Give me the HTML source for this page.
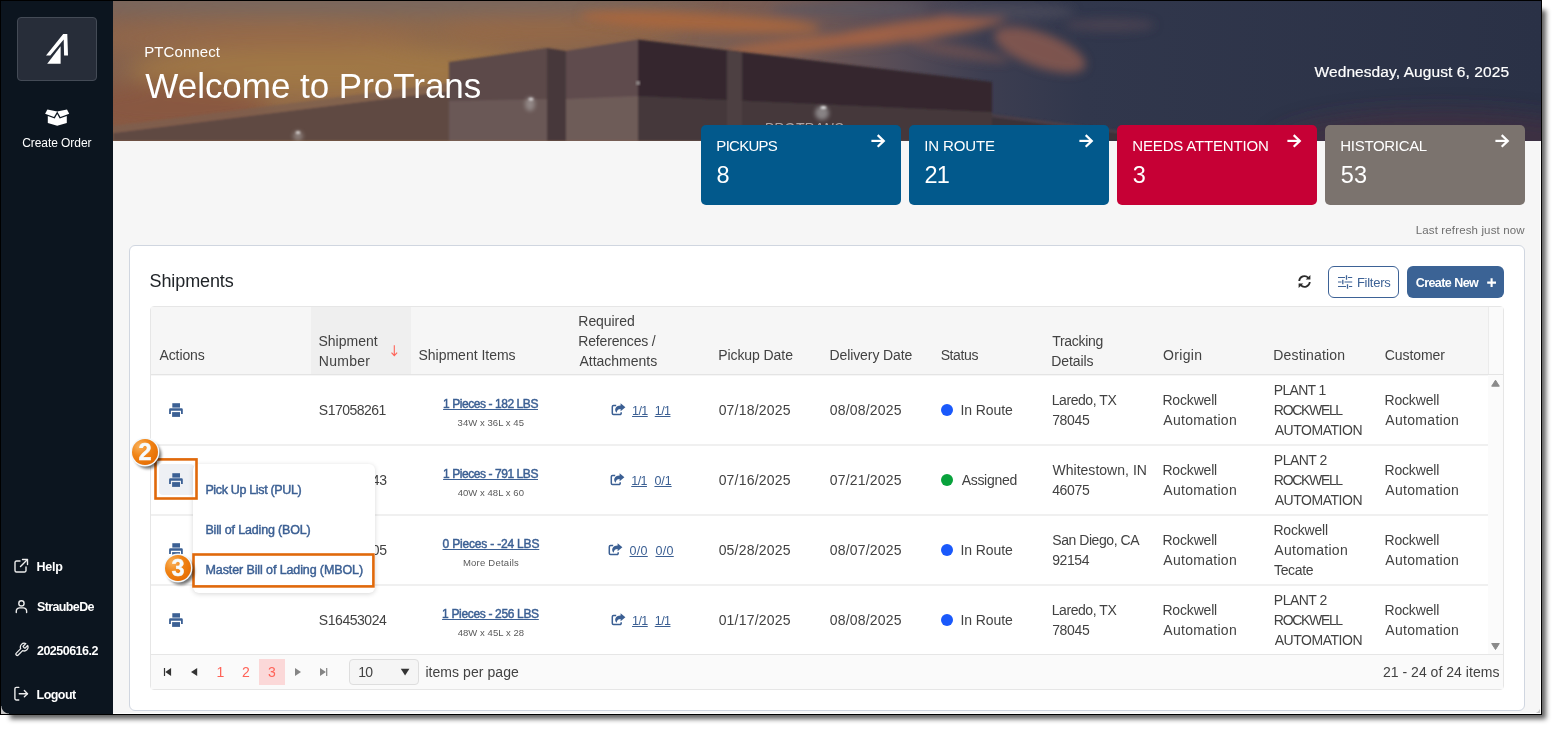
<!DOCTYPE html>
<html lang="en">
<head>
<meta charset="utf-8">
<title>PTConnect - Welcome to ProTrans</title>
<style>
*{box-sizing:border-box;margin:0;padding:0}
html,body{width:1557px;height:730px;overflow:hidden;background:#fff}
body{font-family:"Liberation Sans",sans-serif;font-size:14px;color:#424242;position:relative}
.a{position:absolute;white-space:nowrap}
#frame{position:absolute;left:0;top:0;width:1542px;height:715px;background:#f6f6f6;overflow:hidden}
#border{position:absolute;left:0;top:0;width:1542px;height:715px;border:1px solid #000;z-index:50}
#side{position:absolute;left:0;top:0;width:113px;height:715px;background:#0c151f}
#logo{position:absolute;left:17px;top:17px;width:80px;height:64px;background:#272d39;border:1px solid #444b56;border-radius:4px}
#hero{position:absolute;left:113px;top:1px;width:1428px;height:140px;overflow:hidden;background:#4a3c40}
.card{position:absolute;top:125px;width:200px;height:80px;border-radius:5px}
#panel{position:absolute;left:129px;top:245px;width:1396px;height:466px;background:#fff;border:1px solid #d0d6e0;border-radius:6px}
#grid{position:absolute;left:150px;top:306px;width:1354px;height:384px;border:1px solid #e6e6e6;border-radius:4px;background:#fff;overflow:hidden}
.u{text-decoration:underline;text-underline-offset:1px}
.sb{-webkit-text-stroke:.45px currentColor}
</style>
</head>
<body>
<div class="a" style="left:10px;top:10px;width:1536px;height:709px;background:rgba(0,0,0,.62);filter:blur(2.500px)"></div>

<div id="frame">
<div id="side">
<div id="logo"><svg class="a" style="left:-1px;top:-1px" width="80" height="64" viewBox="17 17 80 64"><polygon fill="#fff" points="63.200,34 67.300,34 68,55.600 64.100,55.500 63.700,39.500 50.300,55.600 46,55.600"/><polygon fill="#fff" points="60.600,46.200 60.600,63.700 47.200,63.700"/></svg></div>
<svg class="a" style="left:45px;top:108.500px" width="25" height="18" viewBox="0 0 25 18"><path fill="#fff" d="M2.400 .5L.1 4.700L9 7.900L12.200 2.500Z"/><path fill="#fff" d="M22 .5L24.200 4.700L15.400 7.900L12.200 2.500Z"/><path fill="#fff" d="M2.800 7L9.700 9.500L12.200 5L14.700 9.500L21.800 7V14.100L12.200 16.700L2.800 14.100Z"/></svg>
</div>
<div class="a" style="left:22.20px;top:136px;font-size:12px;line-height:14px;color:#fff;letter-spacing:-0.066px;">Create Order</div>
<svg class="a" style="left:11.75px;top:557.25px" width="18" height="18" viewBox="0 0 18 18" fill="none" stroke="#ececec" stroke-width="1.4" stroke-linecap="round" stroke-linejoin="round"><path d="M8 4H4.500A1.500 1.500 0 0 0 3 5.500V13.500A1.500 1.500 0 0 0 4.500 15H12.500A1.500 1.500 0 0 0 14 13.500V10"/><path d="M10.500 2.500H15.500V7.500"/><path d="M15.200 2.800L8.500 9.500"/></svg>
<div class="a" style="left:36.57px;top:560px;font-size:12.5px;line-height:14px;color:#fff;letter-spacing:-0.250px;font-weight:bold;">Help</div>
<svg class="a" style="left:12.5px;top:597.7px" width="16.9" height="16.9" viewBox="0 0 18 18" fill="none" stroke="#ececec" stroke-width="1.5" stroke-linecap="round" stroke-linejoin="round"><circle cx="9" cy="5.800" r="2.800"/><path d="M3.500 15.500V14A3.500 3.500 0 0 1 7 10.500H11A3.500 3.500 0 0 1 14.500 14V15.500"/></svg>
<div class="a" style="left:37.05px;top:600px;font-size:12.5px;line-height:14px;color:#fff;letter-spacing:-0.630px;font-weight:bold;">StraubeDe</div>
<svg class="a" style="left:13.8px;top:642.3px" width="15.3" height="15.3" viewBox="0 0 24 24" fill="none" stroke="#ececec" stroke-width="2" stroke-linecap="round" stroke-linejoin="round"><path d="M14.700 6.300a1 1 0 0 0 0 1.400l1.600 1.600a1 1 0 0 0 1.400 0l3.770-3.770a6 6 0 0 1-7.940 7.940l-6.910 6.910a2.120 2.120 0 0 1-3-3l6.910-6.910a6 6 0 0 1 7.940-7.940l-3.760 3.760z"/></svg>
<div class="a" style="left:36.98px;top:644px;font-size:12.5px;line-height:14px;color:#fff;letter-spacing:-0.514px;font-weight:bold;">20250616.2</div>
<svg class="a" style="left:11.8px;top:685.4px" width="17.4" height="17.4" viewBox="0 0 18 18" fill="none" stroke="#ececec" stroke-width="1.45" stroke-linecap="round" stroke-linejoin="round"><path d="M7 2.500H4.500A1.500 1.500 0 0 0 3 4V14A1.500 1.500 0 0 0 4.500 15.500H7"/><path d="M7.500 9H16"/><path d="M12.800 5.800L16 9L12.800 12.200"/></svg>
<div class="a" style="left:36.57px;top:688px;font-size:12.5px;line-height:14px;color:#fff;letter-spacing:-0.552px;font-weight:bold;">Logout</div>
<div id="hero">
<svg class="a" style="left:0;top:0" width="1428" height="140" viewBox="113 1 1428 140" preserveAspectRatio="none">
<defs>
<linearGradient id="sky" x1="0" x2="1" y1="0" y2="0">
<stop offset="0" stop-color="#86624d"/><stop offset=".12" stop-color="#926a49"/><stop offset=".26" stop-color="#8e694c"/><stop offset=".38" stop-color="#826251"/><stop offset=".48" stop-color="#745a55"/><stop offset=".55" stop-color="#564c57"/><stop offset=".61" stop-color="#3d3e51"/><stop offset=".68" stop-color="#31374c"/><stop offset="1" stop-color="#2a3146"/>
</linearGradient>
<linearGradient id="topfade" x1="0" x2="0" y1="0" y2="1"><stop offset="0" stop-color="#77675f" stop-opacity=".9"/><stop offset="1" stop-color="#77675f" stop-opacity="0"/></linearGradient>
<filter id="b8" x="-20%" y="-60%" width="140%" height="220%"><feGaussianBlur stdDeviation="10"/></filter>
<filter id="b4" x="-20%" y="-60%" width="140%" height="220%"><feGaussianBlur stdDeviation="5"/></filter>
<filter id="b2" x="-50%" y="-50%" width="200%" height="200%"><feGaussianBlur stdDeviation="2.200"/></filter>
<filter id="b1"><feGaussianBlur stdDeviation=".8"/></filter>
</defs>
<rect x="113" y="1" width="1428" height="140" fill="url(#sky)"/>
<g filter="url(#b8)">
<ellipse cx="330" cy="70" rx="200" ry="24" fill="#a27947" opacity=".85"/>
<ellipse cx="250" cy="38" rx="170" ry="13" fill="#986b49" opacity=".7"/>
<ellipse cx="170" cy="108" rx="100" ry="26" fill="#88553f" opacity=".85"/>
<ellipse cx="560" cy="30" rx="120" ry="13" fill="#9a6843" opacity=".75"/>
<ellipse cx="330" cy="0" rx="380" ry="16" fill="#77675f" opacity=".9"/>
<ellipse cx="1440" cy="145" rx="170" ry="35" fill="#4a3240" opacity=".55"/>
</g>
<g filter="url(#b4)">
<ellipse cx="700" cy="22" rx="120" ry="9" fill="#a8673f" opacity=".9" transform="rotate(3 700 22)"/>
<ellipse cx="810" cy="44" rx="85" ry="7" fill="#a56542" opacity=".9" transform="rotate(-6 810 44)"/>
<ellipse cx="915" cy="30" rx="95" ry="10" fill="#a26346" opacity=".9" transform="rotate(-8 915 30)"/>
<ellipse cx="850" cy="9" rx="80" ry="6" fill="#5a5660" opacity=".8"/>
<ellipse cx="1005" cy="12" rx="70" ry="8" fill="#4a4a5a" opacity=".8"/>
<ellipse cx="1040" cy="50" rx="48" ry="17" fill="#8a5a50" opacity=".85" transform="rotate(20 1040 50)"/>
<ellipse cx="960" cy="52" rx="50" ry="6" fill="#7d5650" opacity=".6" transform="rotate(10 960 52)"/>
<ellipse cx="1110" cy="25" rx="45" ry="7" fill="#5b4a55" opacity=".5"/>
</g>
<g filter="url(#b1)">
<polygon points="113,133 449,91 449,141 113,141" fill="#5f4843"/>
<polygon points="113,126 449,83 449,91 113,133" fill="#7c6050" opacity=".75"/>
<polygon points="449,62 547,48 547,141 449,141" fill="#5b4849"/>
<polygon points="449,101 547,99 547,141 449,141" fill="#6b5856"/>
<polygon points="547,48 566,51 566,141 547,141" fill="#47373b"/>
<polygon points="566,51 638,39.500 638,141 566,141" fill="#5f4c4d"/>
<polygon points="566,99 638,96 638,141 566,141" fill="#6e5b59"/>
<polygon points="638,39.500 992,82 992,141 638,141" fill="#35282d"/>
<polygon points="638,96 992,112 992,141 638,141" fill="#44373b"/>
<polygon points="727,50.500 742,52.200 742,141 727,141" fill="#4e3f42"/>
<polygon points="992,114 1200,141 992,141" fill="#3b3039"/>
<polygon points="992,114 1200,141 1180,141 992,117" fill="#4b404a"/>
</g>
<g filter="url(#b2)" fill="#eef4f6">
<ellipse cx="530" cy="104" rx="5" ry="7" opacity=".3"/>
<ellipse cx="298" cy="136" rx="5" ry="5" opacity=".3"/>
<ellipse cx="822" cy="113" rx="7" ry="7" opacity=".4"/>
</g>
<g filter="url(#b1)" fill="#fff">
<ellipse cx="531" cy="99" rx="2.600" ry="1.600" opacity=".7"/>
<ellipse cx="298" cy="132.500" rx="2.400" ry="1.500" opacity=".7"/>
<ellipse cx="823.500" cy="107.500" rx="3" ry="1.600" opacity=".8"/>
</g>
<rect x="636" y="81" width="4" height="4" fill="#8d8585" filter="url(#b1)"/>
<text x="764" y="133" font-family="Liberation Sans, sans-serif" font-size="14" font-style="italic" fill="#d8d2d2" opacity=".7" letter-spacing=".2">PROTRANS</text>
</svg>

</div>
<div class="a" style="left:144.27px;top:43px;font-size:15px;line-height:17px;color:#fff;letter-spacing:0.074px;">PTConnect</div>
<div class="a" style="left:145.36px;top:66px;font-size:35px;line-height:39px;color:#fff;letter-spacing:-0.033px;">Welcome to ProTrans</div>
<div class="a sb" style="left:1314.54px;top:63px;font-size:15.5px;line-height:17px;color:#fff;letter-spacing:0.085px;-webkit-text-stroke-width:.2px;">Wednesday, August 6, 2025</div>
<div class="card" style="left:701px;background:#02598c"><svg class="a" style="left:169px;top:8px" width="18" height="18" viewBox="0 0 18 18" fill="none" stroke="#fff" stroke-width="2.200" stroke-linecap="butt" stroke-linejoin="miter"><path d="M1.400 7.900H13.500"/><path d="M7.700 2.100L13.800 7.900L7.700 13.700"/></svg></div>
<div class="a" style="left:716.37px;top:137px;font-size:15px;line-height:17px;color:#fff;letter-spacing:-0.724px;">PICKUPS</div>
<div class="a" style="left:716.59px;top:162px;font-size:23.5px;line-height:26px;color:#fff;">8</div>
<div class="card" style="left:909px;background:#02598c"><svg class="a" style="left:169px;top:8px" width="18" height="18" viewBox="0 0 18 18" fill="none" stroke="#fff" stroke-width="2.200" stroke-linecap="butt" stroke-linejoin="miter"><path d="M1.400 7.900H13.500"/><path d="M7.700 2.100L13.800 7.900L7.700 13.700"/></svg></div>
<div class="a" style="left:924.22px;top:137px;font-size:15px;line-height:17px;color:#fff;letter-spacing:-0.123px;">IN ROUTE</div>
<div class="a" style="left:924.43px;top:162px;font-size:23.5px;line-height:26px;color:#fff;letter-spacing:-0.629px;">21</div>
<div class="card" style="left:1117px;background:#c60035"><svg class="a" style="left:169px;top:8px" width="18" height="18" viewBox="0 0 18 18" fill="none" stroke="#fff" stroke-width="2.200" stroke-linecap="butt" stroke-linejoin="miter"><path d="M1.400 7.900H13.500"/><path d="M7.700 2.100L13.800 7.900L7.700 13.700"/></svg></div>
<div class="a" style="left:1132.37px;top:137px;font-size:15px;line-height:17px;color:#fff;letter-spacing:-0.175px;">NEEDS ATTENTION</div>
<div class="a" style="left:1132.71px;top:162px;font-size:23.5px;line-height:26px;color:#fff;">3</div>
<div class="card" style="left:1325px;background:#7b736e"><svg class="a" style="left:169px;top:8px" width="18" height="18" viewBox="0 0 18 18" fill="none" stroke="#fff" stroke-width="2.200" stroke-linecap="butt" stroke-linejoin="miter"><path d="M1.400 7.900H13.500"/><path d="M7.700 2.100L13.800 7.900L7.700 13.700"/></svg></div>
<div class="a" style="left:1340.37px;top:137px;font-size:15px;line-height:17px;color:#fff;letter-spacing:-0.324px;">HISTORICAL</div>
<div class="a" style="left:1340.66px;top:162px;font-size:23.5px;line-height:26px;color:#fff;letter-spacing:0.219px;">53</div>
<div class="a" style="left:1415.76px;top:224px;font-size:11.5px;line-height:12px;color:#6f6f6f;letter-spacing:0.135px;">Last refresh just now</div>
<div id="panel"></div>
<div class="a" style="left:149.59px;top:271px;font-size:18px;line-height:20px;color:#212529;letter-spacing:-0.112px;">Shipments</div>
<svg class="a" style="left:1297px;top:274px" width="15" height="15" viewBox="0 0 15 15" fill="none" stroke="#2b2b2b" stroke-width="1.800"><path d="M2.200 7A5.300 5.300 0 0 1 11.300 3.800"/><path d="M12.800 8A5.300 5.300 0 0 1 3.700 11.200"/><path fill="#2b2b2b" stroke="none" d="M8.700 5.600H13.400V.9Z"/><path fill="#2b2b2b" stroke="none" d="M6.300 9.400H1.600V14.100Z"/></svg>
<div class="a" style="left:1328px;top:266px;width:71px;height:32px;border:1px solid #3d6296;border-radius:6px;background:#fff"></div>
<svg class="a" style="left:1337px;top:274px" width="16" height="16" viewBox="0 0 16 16" fill="none" stroke="#3d6296" stroke-width="1.200"><path d="M1 3.500H8M11 3.500H15.200M1 8H4.500M7.500 8H15.200M1 12.500H9M12 12.500H15.200"/><path d="M9.500 1.300V5.700M5.800 5.800V10.200M10.500 10.300V14.700" stroke-width="1.300"/></svg>
<div class="a" style="left:1356.93px;top:275px;font-size:13px;line-height:15px;color:#3d6296;letter-spacing:-0.259px;">Filters</div>
<div class="a" style="left:1407px;top:266px;width:97px;height:32px;border-radius:6px;background:#3b6395"></div>
<div class="a" style="left:1415.69px;top:276px;font-size:12.5px;line-height:14px;color:#fff;letter-spacing:-0.556px;font-weight:bold;">Create New</div>
<svg class="a" style="left:1486px;top:277px" width="11" height="11" viewBox="0 0 11 11" stroke="#fff" stroke-width="2.100"><path d="M5.600 1.200V10M1.200 5.600H10"/></svg>
<div id="grid"></div>
<div class="a" style="left:151px;top:307px;width:1352px;height:67px;background:#f6f6f6"></div>
<div class="a" style="left:311px;top:307px;width:100px;height:67px;background:#efefef"></div>
<div class="a" style="left:151px;top:374px;width:1352px;height:1px;background:#e4e4e4"></div>
<div class="a" style="left:151px;top:375px;width:1337px;height:1px;background:#f6f6f6"></div>
<div class="a" style="left:1488px;top:307px;width:1px;height:67px;background:#ebebeb"></div>
<div class="a" style="left:1489px;top:307px;width:14px;height:67px;background:#fafafa"></div>
<div class="a" style="left:1488px;top:375px;width:15px;height:279px;background:#fbfbfb"></div>
<svg class="a" style="left:1490px;top:379px" width="11" height="9" viewBox="0 0 11 9"><path fill="#8a8a8a" stroke="#8a8a8a" stroke-width="1" stroke-linejoin="round" d="M5.500 1.200L9.300 7.200H1.700Z"/></svg>
<svg class="a" style="left:1490px;top:642px" width="11" height="9" viewBox="0 0 11 9"><path fill="#8a8a8a" stroke="#8a8a8a" stroke-width="1" stroke-linejoin="round" d="M5.500 7.500L9.300 1.500H1.700Z"/></svg>
<div class="a" style="left:159.47px;top:347px;font-size:14px;line-height:16px;color:#424242;letter-spacing:-0.096px;">Actions</div>
<div class="a" style="left:318.47px;top:333px;font-size:14px;line-height:16px;color:#424242;letter-spacing:0.011px;">Shipment</div>
<div class="a" style="left:318.85px;top:353px;font-size:14px;line-height:16px;color:#424242;letter-spacing:0.255px;">Number</div>
<svg class="a" style="left:390px;top:345px" width="9" height="12" viewBox="0 0 9 12" fill="none" stroke="#ff6358" stroke-width="1.100"><path d="M4.300 .2V10.500M1.500 7.600L4.300 10.700L7.100 7.600"/></svg>
<div class="a" style="left:418.47px;top:347px;font-size:14px;line-height:16px;color:#424242;letter-spacing:-0.010px;">Shipment Items</div>
<div class="a" style="left:578.35px;top:313px;font-size:14px;line-height:16px;color:#424242;letter-spacing:-0.067px;">Required</div>
<div class="a" style="left:578.35px;top:333px;font-size:14px;line-height:16px;color:#424242;letter-spacing:-0.185px;">References /</div>
<div class="a" style="left:579.47px;top:353px;font-size:14px;line-height:16px;color:#424242;letter-spacing:-0.008px;">Attachments</div>
<div class="a" style="left:718.25px;top:347px;font-size:14px;line-height:16px;color:#424242;letter-spacing:-0.081px;">Pickup Date</div>
<div class="a" style="left:829.45px;top:347px;font-size:14px;line-height:16px;color:#424242;letter-spacing:-0.089px;">Delivery Date</div>
<div class="a" style="left:940.67px;top:347px;font-size:14px;line-height:16px;color:#424242;letter-spacing:-0.391px;">Status</div>
<div class="a" style="left:1052.19px;top:333px;font-size:14px;line-height:16px;color:#424242;letter-spacing:-0.279px;">Tracking</div>
<div class="a" style="left:1051.35px;top:353px;font-size:14px;line-height:16px;color:#424242;letter-spacing:-0.091px;">Details</div>
<div class="a" style="left:1162.94px;top:347px;font-size:14px;line-height:16px;color:#424242;letter-spacing:0.363px;">Origin</div>
<div class="a" style="left:1273.25px;top:347px;font-size:14px;line-height:16px;color:#424242;letter-spacing:0.180px;">Destination</div>
<div class="a" style="left:1384.80px;top:347px;font-size:14px;line-height:16px;color:#424242;letter-spacing:-0.093px;">Customer</div>
<svg class="a" style="left:169px;top:403px" width="15" height="15" viewBox="0 0 15 15"><path fill="#3b6094" d="M3.300 .2H11V4.600H3.300Z"/><path fill="#3b6094" d="M1.300 5.300H12.600A1.200 1.200 0 0 1 13.800 6.500V10.900H12V7.800H1.900V10.900H.1V6.500A1.200 1.200 0 0 1 1.300 5.300Z"/><path fill="#3b6094" d="M3.100 9.100H11V13.900H3.100Z"/></svg>
<div class="a" style="left:318.87px;top:402px;font-size:14px;line-height:16px;color:#424242;letter-spacing:-0.515px;">S17058261</div>
<div class="a u sb" style="left:443.09px;top:397px;font-size:12px;line-height:14px;color:#3b5f93;letter-spacing:-0.434px;">1 Pieces - 182 LBS</div>
<div class="a" style="left:457.54px;top:417px;font-size:9.5px;line-height:11px;color:#5a5a5a;letter-spacing:0.061px;">34W x 36L x 45</div>
<svg class="a" style="left:611.0px;top:403px" width="15" height="13" viewBox="0 0 15 13" fill="none"><path stroke="#3b5f93" stroke-width="1.500" d="M5.200 2.600H2.500A1.200 1.200 0 0 0 1.300 3.800V10.300A1.200 1.200 0 0 0 2.500 11.500H9A1.200 1.200 0 0 0 10.200 10.300V9.300"/><path fill="#3b5f93" d="M9.600 .3L14.400 4.300L9.600 8.200V5.900C7.300 5.900 6.100 6.700 5.600 9.800C4.200 8.400 3.900 6.900 4.400 5.600C5.100 3.600 6.900 2.700 9.600 2.600Z"/></svg>
<div class="a u" style="left:632.05px;top:404px;font-size:12.5px;line-height:14px;color:#3b5f93;letter-spacing:-0.562px;">1/1</div>
<div class="a u" style="left:654.75px;top:404px;font-size:12.5px;line-height:14px;color:#3b5f93;letter-spacing:-0.563px;">1/1</div>
<div class="a" style="left:718.65px;top:402px;font-size:14px;line-height:16px;color:#424242;letter-spacing:0.194px;">07/18/2025</div>
<div class="a" style="left:829.85px;top:402px;font-size:14px;line-height:16px;color:#424242;letter-spacing:0.172px;">08/08/2025</div>
<div class="a" style="left:941px;top:404px;width:12px;height:12px;border-radius:50%;background:#1a59fb"></div>
<div class="a" style="left:960.41px;top:402px;font-size:14px;line-height:16px;color:#424242;letter-spacing:-0.088px;">In Route</div>
<div class="a" style="left:1051.75px;top:392px;font-size:14px;line-height:16px;color:#424242;letter-spacing:-0.440px;">Laredo, TX</div>
<div class="a" style="left:1052.19px;top:412px;font-size:14px;line-height:16px;color:#424242;letter-spacing:-0.362px;">78045</div>
<div class="a" style="left:1162.45px;top:392px;font-size:14px;line-height:16px;color:#424242;letter-spacing:-0.177px;">Rockwell</div>
<div class="a" style="left:1163.27px;top:412px;font-size:14px;line-height:16px;color:#424242;letter-spacing:0.290px;">Automation</div>
<div class="a" style="left:1273.85px;top:382px;font-size:14px;line-height:16px;color:#424242;letter-spacing:-0.704px;">PLANT 1</div>
<div class="a" style="left:1273.85px;top:402px;font-size:14px;line-height:16px;color:#424242;letter-spacing:-1.323px;">ROCKWELL</div>
<div class="a" style="left:1274.67px;top:422px;font-size:14px;line-height:16px;color:#424242;letter-spacing:-0.464px;">AUTOMATION</div>
<div class="a" style="left:1384.45px;top:392px;font-size:14px;line-height:16px;color:#424242;letter-spacing:-0.163px;">Rockwell</div>
<div class="a" style="left:1385.27px;top:412px;font-size:14px;line-height:16px;color:#424242;letter-spacing:0.312px;">Automation</div>
<div class="a" style="left:151px;top:444px;width:1337px;height:2px;background:#f0f0f0"></div>
<svg class="a" style="left:169px;top:473px" width="15" height="15" viewBox="0 0 15 15"><path fill="#3b6094" d="M3.300 .2H11V4.600H3.300Z"/><path fill="#3b6094" d="M1.300 5.300H12.600A1.200 1.200 0 0 1 13.800 6.500V10.900H12V7.800H1.900V10.900H.1V6.500A1.200 1.200 0 0 1 1.300 5.300Z"/><path fill="#3b6094" d="M3.100 9.100H11V13.900H3.100Z"/></svg>
<div class="a" style="left:318.87px;top:472px;font-size:14px;line-height:16px;color:#424242;letter-spacing:-0.437px;">S17044343</div>
<div class="a u sb" style="left:443.09px;top:467px;font-size:12px;line-height:14px;color:#3b5f93;letter-spacing:-0.434px;">1 Pieces - 791 LBS</div>
<div class="a" style="left:457.69px;top:487px;font-size:9.5px;line-height:11px;color:#5a5a5a;letter-spacing:0.047px;">40W x 48L x 60</div>
<svg class="a" style="left:610.3px;top:473px" width="15" height="13" viewBox="0 0 15 13" fill="none"><path stroke="#3b5f93" stroke-width="1.500" d="M5.200 2.600H2.500A1.200 1.200 0 0 0 1.300 3.800V10.300A1.200 1.200 0 0 0 2.500 11.500H9A1.200 1.200 0 0 0 10.200 10.300V9.300"/><path fill="#3b5f93" d="M9.600 .3L14.400 4.300L9.600 8.200V5.900C7.300 5.900 6.100 6.700 5.600 9.800C4.200 8.400 3.900 6.900 4.400 5.600C5.100 3.600 6.900 2.700 9.600 2.600Z"/></svg>
<div class="a u" style="left:631.25px;top:474px;font-size:12.5px;line-height:14px;color:#3b5f93;letter-spacing:-0.563px;">1/1</div>
<div class="a u" style="left:654.41px;top:474px;font-size:12.5px;line-height:14px;color:#3b5f93;letter-spacing:-0.044px;">0/1</div>
<div class="a" style="left:718.65px;top:472px;font-size:14px;line-height:16px;color:#424242;letter-spacing:0.194px;">07/16/2025</div>
<div class="a" style="left:829.85px;top:472px;font-size:14px;line-height:16px;color:#424242;letter-spacing:0.172px;">07/21/2025</div>
<div class="a" style="left:941px;top:474px;width:12px;height:12px;border-radius:50%;background:#08a23c"></div>
<div class="a" style="left:961.67px;top:472px;font-size:14px;line-height:16px;color:#424242;letter-spacing:-0.296px;">Assigned</div>
<div class="a" style="left:1052.44px;top:462px;font-size:14px;line-height:16px;color:#424242;letter-spacing:0.027px;">Whitestown, IN</div>
<div class="a" style="left:1052.19px;top:482px;font-size:14px;line-height:16px;color:#424242;letter-spacing:-0.363px;">46075</div>
<div class="a" style="left:1162.45px;top:462px;font-size:14px;line-height:16px;color:#424242;letter-spacing:-0.177px;">Rockwell</div>
<div class="a" style="left:1163.27px;top:482px;font-size:14px;line-height:16px;color:#424242;letter-spacing:0.290px;">Automation</div>
<div class="a" style="left:1273.85px;top:452px;font-size:14px;line-height:16px;color:#424242;letter-spacing:-0.533px;">PLANT 2</div>
<div class="a" style="left:1273.85px;top:472px;font-size:14px;line-height:16px;color:#424242;letter-spacing:-1.323px;">ROCKWELL</div>
<div class="a" style="left:1274.67px;top:492px;font-size:14px;line-height:16px;color:#424242;letter-spacing:-0.464px;">AUTOMATION</div>
<div class="a" style="left:1384.45px;top:462px;font-size:14px;line-height:16px;color:#424242;letter-spacing:-0.163px;">Rockwell</div>
<div class="a" style="left:1385.27px;top:482px;font-size:14px;line-height:16px;color:#424242;letter-spacing:0.312px;">Automation</div>
<div class="a" style="left:151px;top:514px;width:1337px;height:2px;background:#f0f0f0"></div>
<svg class="a" style="left:169px;top:543px" width="15" height="15" viewBox="0 0 15 15"><path fill="#3b6094" d="M3.300 .2H11V4.600H3.300Z"/><path fill="#3b6094" d="M1.300 5.300H12.600A1.200 1.200 0 0 1 13.800 6.500V10.900H12V7.800H1.900V10.900H.1V6.500A1.200 1.200 0 0 1 1.300 5.300Z"/><path fill="#3b6094" d="M3.100 9.100H11V13.900H3.100Z"/></svg>
<div class="a" style="left:318.87px;top:542px;font-size:14px;line-height:16px;color:#424242;letter-spacing:-0.440px;">S16745305</div>
<div class="a u sb" style="left:442.53px;top:537px;font-size:12px;line-height:14px;color:#3b5f93;letter-spacing:-0.184px;">0 Pieces - -24 LBS</div>
<div class="a" style="left:462.92px;top:557px;font-size:9.5px;line-height:11px;color:#5a5a5a;letter-spacing:0.236px;">More Details</div>
<svg class="a" style="left:608.0px;top:543px" width="15" height="13" viewBox="0 0 15 13" fill="none"><path stroke="#3b5f93" stroke-width="1.500" d="M5.200 2.600H2.500A1.200 1.200 0 0 0 1.300 3.800V10.300A1.200 1.200 0 0 0 2.500 11.500H9A1.200 1.200 0 0 0 10.200 10.300V9.300"/><path fill="#3b5f93" d="M9.600 .3L14.400 4.300L9.600 8.200V5.900C7.300 5.900 6.100 6.700 5.600 9.800C4.200 8.400 3.900 6.900 4.400 5.600C5.100 3.600 6.900 2.700 9.600 2.600Z"/></svg>
<div class="a u" style="left:629.51px;top:544px;font-size:12.5px;line-height:14px;color:#3b5f93;letter-spacing:0.294px;">0/0</div>
<div class="a u" style="left:655.51px;top:544px;font-size:12.5px;line-height:14px;color:#3b5f93;letter-spacing:0.294px;">0/0</div>
<div class="a" style="left:718.65px;top:542px;font-size:14px;line-height:16px;color:#424242;letter-spacing:0.194px;">05/28/2025</div>
<div class="a" style="left:829.85px;top:542px;font-size:14px;line-height:16px;color:#424242;letter-spacing:0.172px;">08/07/2025</div>
<div class="a" style="left:941px;top:544px;width:12px;height:12px;border-radius:50%;background:#1a59fb"></div>
<div class="a" style="left:960.41px;top:542px;font-size:14px;line-height:16px;color:#424242;letter-spacing:-0.088px;">In Route</div>
<div class="a" style="left:1052.27px;top:532px;font-size:14px;line-height:16px;color:#424242;letter-spacing:-0.446px;">San Diego, CA</div>
<div class="a" style="left:1052.26px;top:552px;font-size:14px;line-height:16px;color:#424242;letter-spacing:-0.421px;">92154</div>
<div class="a" style="left:1162.45px;top:532px;font-size:14px;line-height:16px;color:#424242;letter-spacing:-0.177px;">Rockwell</div>
<div class="a" style="left:1163.27px;top:552px;font-size:14px;line-height:16px;color:#424242;letter-spacing:0.290px;">Automation</div>
<div class="a" style="left:1273.45px;top:522px;font-size:14px;line-height:16px;color:#424242;letter-spacing:-0.192px;">Rockwell</div>
<div class="a" style="left:1274.27px;top:542px;font-size:14px;line-height:16px;color:#424242;letter-spacing:0.290px;">Automation</div>
<div class="a" style="left:1273.99px;top:562px;font-size:14px;line-height:16px;color:#424242;letter-spacing:-0.324px;">Tecate</div>
<div class="a" style="left:1384.45px;top:532px;font-size:14px;line-height:16px;color:#424242;letter-spacing:-0.163px;">Rockwell</div>
<div class="a" style="left:1385.27px;top:552px;font-size:14px;line-height:16px;color:#424242;letter-spacing:0.312px;">Automation</div>
<div class="a" style="left:151px;top:584px;width:1337px;height:2px;background:#f0f0f0"></div>
<svg class="a" style="left:169px;top:613px" width="15" height="15" viewBox="0 0 15 15"><path fill="#3b6094" d="M3.300 .2H11V4.600H3.300Z"/><path fill="#3b6094" d="M1.300 5.300H12.600A1.200 1.200 0 0 1 13.800 6.500V10.900H12V7.800H1.900V10.900H.1V6.500A1.200 1.200 0 0 1 1.300 5.300Z"/><path fill="#3b6094" d="M3.100 9.100H11V13.900H3.100Z"/></svg>
<div class="a" style="left:318.87px;top:612px;font-size:14px;line-height:16px;color:#424242;letter-spacing:-0.461px;">S16453024</div>
<div class="a u sb" style="left:442.09px;top:607px;font-size:12px;line-height:14px;color:#3b5f93;letter-spacing:-0.334px;">1 Pieces - 256 LBS</div>
<div class="a" style="left:457.69px;top:627px;font-size:9.5px;line-height:11px;color:#5a5a5a;letter-spacing:0.051px;">48W x 45L x 28</div>
<svg class="a" style="left:611.0px;top:613px" width="15" height="13" viewBox="0 0 15 13" fill="none"><path stroke="#3b5f93" stroke-width="1.500" d="M5.200 2.600H2.500A1.200 1.200 0 0 0 1.300 3.800V10.300A1.200 1.200 0 0 0 2.500 11.500H9A1.200 1.200 0 0 0 10.200 10.300V9.300"/><path fill="#3b5f93" d="M9.600 .3L14.400 4.300L9.600 8.200V5.900C7.300 5.900 6.100 6.700 5.600 9.800C4.200 8.400 3.900 6.900 4.400 5.600C5.100 3.600 6.900 2.700 9.600 2.600Z"/></svg>
<div class="a u" style="left:632.05px;top:614px;font-size:12.5px;line-height:14px;color:#3b5f93;letter-spacing:-0.562px;">1/1</div>
<div class="a u" style="left:654.75px;top:614px;font-size:12.5px;line-height:14px;color:#3b5f93;letter-spacing:-0.563px;">1/1</div>
<div class="a" style="left:718.65px;top:612px;font-size:14px;line-height:16px;color:#424242;letter-spacing:0.194px;">01/17/2025</div>
<div class="a" style="left:829.85px;top:612px;font-size:14px;line-height:16px;color:#424242;letter-spacing:0.172px;">08/08/2025</div>
<div class="a" style="left:941px;top:614px;width:12px;height:12px;border-radius:50%;background:#1a59fb"></div>
<div class="a" style="left:960.41px;top:612px;font-size:14px;line-height:16px;color:#424242;letter-spacing:-0.088px;">In Route</div>
<div class="a" style="left:1051.75px;top:602px;font-size:14px;line-height:16px;color:#424242;letter-spacing:-0.440px;">Laredo, TX</div>
<div class="a" style="left:1052.19px;top:622px;font-size:14px;line-height:16px;color:#424242;letter-spacing:-0.362px;">78045</div>
<div class="a" style="left:1162.45px;top:602px;font-size:14px;line-height:16px;color:#424242;letter-spacing:-0.177px;">Rockwell</div>
<div class="a" style="left:1163.27px;top:622px;font-size:14px;line-height:16px;color:#424242;letter-spacing:0.290px;">Automation</div>
<div class="a" style="left:1273.85px;top:592px;font-size:14px;line-height:16px;color:#424242;letter-spacing:-0.533px;">PLANT 2</div>
<div class="a" style="left:1273.85px;top:612px;font-size:14px;line-height:16px;color:#424242;letter-spacing:-1.323px;">ROCKWELL</div>
<div class="a" style="left:1274.67px;top:632px;font-size:14px;line-height:16px;color:#424242;letter-spacing:-0.464px;">AUTOMATION</div>
<div class="a" style="left:1384.45px;top:602px;font-size:14px;line-height:16px;color:#424242;letter-spacing:-0.163px;">Rockwell</div>
<div class="a" style="left:1385.27px;top:622px;font-size:14px;line-height:16px;color:#424242;letter-spacing:0.312px;">Automation</div>
<div class="a" style="left:151px;top:654px;width:1352px;height:1px;background:#e6e6e6"></div>
<div class="a" style="left:151px;top:655px;width:1352px;height:34px;background:#fafafa"></div>
<svg class="a" style="left:163px;top:667px" width="9" height="10" viewBox="0 0 9 10"><path fill="#333" d="M.9 .9H2.100V9.100H.9ZM8.100 .9V9.100L2.300 5Z"/></svg>
<svg class="a" style="left:190px;top:667px" width="9" height="10" viewBox="0 0 9 10"><path fill="#333" d="M7.200 .9V9.100L1 5Z"/></svg>
<div class="a" style="left:259px;top:659px;width:26px;height:26px;background:#fbd8d8"></div>
<div class="a" style="left:216.54px;top:664px;font-size:14px;line-height:16px;color:#ff6358;">1</div>
<div class="a" style="left:242.00px;top:664px;font-size:14px;line-height:16px;color:#ff6358;">2</div>
<div class="a" style="left:267.97px;top:664px;font-size:14px;line-height:16px;color:#ff6358;">3</div>
<svg class="a" style="left:294px;top:667px" width="9" height="10" viewBox="0 0 9 10"><path fill="#858585" d="M1 .9V9.100L7 5Z"/></svg>
<svg class="a" style="left:319px;top:667px" width="9" height="10" viewBox="0 0 9 10"><path fill="#858585" d="M7.100 .9H8.300V9.100H7.100ZM1 .9V9.100L6.900 5Z"/></svg>
<div class="a" style="left:349px;top:659px;width:70px;height:26px;border:1px solid #dedede;border-radius:4px;background:#f5f5f5"></div>
<div class="a" style="left:358.14px;top:664px;font-size:14px;line-height:16px;color:#424242;letter-spacing:-0.772px;">10</div>
<svg class="a" style="left:400px;top:668px" width="10" height="8" viewBox="0 0 10 8"><path fill="#333" d="M.8 .8H9.400L5.100 7.600Z"/></svg>
<div class="a" style="left:425.38px;top:664px;font-size:14px;line-height:16px;color:#424242;letter-spacing:0.064px;">items per page</div>
<div class="a" style="left:1382.90px;top:664px;font-size:14px;line-height:16px;color:#424242;letter-spacing:0.031px;">21 - 24 of 24 items</div>
<div class="a" style="left:159px;top:464px;width:35px;height:31px;background:#eef0f4;border-radius:4px"></div>
<div class="a" style="left:193px;top:464px;width:182px;height:129px;background:#fff;border-radius:6px;box-shadow:0 1px 5px rgba(0,0,0,.16)"></div>
<svg class="a" style="left:169px;top:473px" width="15" height="15" viewBox="0 0 15 15"><path fill="#3b6094" d="M3.300 .2H11V4.600H3.300Z"/><path fill="#3b6094" d="M1.300 5.300H12.600A1.200 1.200 0 0 1 13.800 6.500V10.900H12V7.800H1.900V10.900H.1V6.500A1.200 1.200 0 0 1 1.300 5.300Z"/><path fill="#3b6094" d="M3.100 9.100H11V13.900H3.100Z"/></svg>
<div class="a sb" style="left:205.38px;top:483px;font-size:12.5px;line-height:14px;color:#3b5f93;letter-spacing:-0.341px;">Pick Up List (PUL)</div>
<div class="a sb" style="left:205.38px;top:523px;font-size:12.5px;line-height:14px;color:#3b5f93;letter-spacing:-0.157px;">Bill of Lading (BOL)</div>
<div class="a sb" style="left:205.57px;top:563px;font-size:12.5px;line-height:14px;color:#3b5f93;letter-spacing:-0.110px;">Master Bill of Lading (MBOL)</div>
<svg class="a" style="left:150px;top:454px" width="230" height="140" viewBox="150 454 230 140" fill="none" stroke="#e0690b" stroke-width="2.600"><rect x="155.500" y="459.400" width="41" height="39.100"/><rect x="193.500" y="554.500" width="179.900" height="31.900"/></svg>
<svg class="a" style="left:126.4px;top:432.8px" width="44" height="44" viewBox="0 0 44 44"><defs><radialGradient id="bg2" cx="30%" cy="28%" r="85%"><stop offset="0" stop-color="#f9b25c"/><stop offset=".45" stop-color="#f08416"/><stop offset="1" stop-color="#e56a00"/></radialGradient><filter id="bf2" x="-40%" y="-40%" width="180%" height="180%"><feGaussianBlur stdDeviation="1.800"/></filter></defs><circle cx="21.800" cy="22.300" r="13.500" fill="#000" opacity=".55" filter="url(#bf2)"/><circle cx="19" cy="19" r="14.400" fill="#f4f9fc"/><circle cx="19" cy="19" r="13" fill="url(#bg2)"/><text x="19" y="27.400" text-anchor="middle" font-family="Liberation Sans, sans-serif" font-weight="bold" font-size="23.500" fill="#f6fbfd" stroke="#f6fbfd" stroke-width=".4">2</text></svg>
<svg class="a" style="left:158.9px;top:548.7px" width="44" height="44" viewBox="0 0 44 44"><defs><radialGradient id="bg3" cx="30%" cy="28%" r="85%"><stop offset="0" stop-color="#f9b25c"/><stop offset=".45" stop-color="#f08416"/><stop offset="1" stop-color="#e56a00"/></radialGradient><filter id="bf3" x="-40%" y="-40%" width="180%" height="180%"><feGaussianBlur stdDeviation="1.800"/></filter></defs><circle cx="21.800" cy="22.300" r="13.500" fill="#000" opacity=".55" filter="url(#bf3)"/><circle cx="19" cy="19" r="14.400" fill="#f4f9fc"/><circle cx="19" cy="19" r="13" fill="url(#bg3)"/><text x="19" y="27.400" text-anchor="middle" font-family="Liberation Sans, sans-serif" font-weight="bold" font-size="23.500" fill="#f6fbfd" stroke="#f6fbfd" stroke-width=".4">3</text></svg>
<div class="a" style="left:1px;top:706px;width:8px;height:8px;background:radial-gradient(circle at 100% 0,rgba(200,200,200,0) 7px,#c4c4c4 8px)"></div>
<div class="a" style="left:1533px;top:706px;width:8px;height:8px;background:radial-gradient(circle at 0 0,rgba(200,200,200,0) 7px,#c4c4c4 8px)"></div>
<div class="a" style="left:113px;top:713px;width:1428px;height:1px;background:#fff"></div>
<div class="a" style="left:1540px;top:141px;width:1px;height:573px;background:#fff"></div>
</div>
<div id="border"></div>
</body>
</html>
